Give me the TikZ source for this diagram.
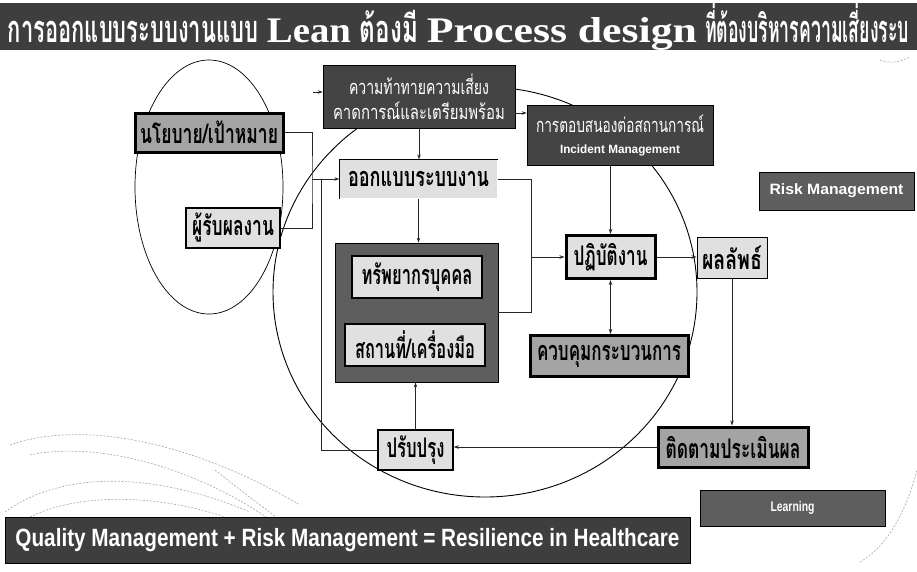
\documentclass[tikz,border=0pt]{standalone}
\usepackage{fontspec}
\usepackage{graphicx}
\newfontfamily\thai[Script=Thai]{Loma}
\newfontfamily\lserif{Liberation Serif}
\newfontfamily\lsans{Liberation Sans}
\usetikzlibrary{arrows.meta}
% scale a label horizontally to a given width, keeping its height
\newcommand{\hfit}[2]{\resizebox{#1}{\height}{#2}}
\definecolor{barDark}{HTML}{3E3E3E}
\definecolor{boxDark}{HTML}{444444}
\definecolor{boxGrey}{HTML}{5E5E5E}
\definecolor{boxMid}{HTML}{A4A4A4}
\definecolor{boxLight}{HTML}{E0E0E0}
\definecolor{swoosh}{HTML}{A8A8A8}
\begin{document}
\begin{tikzpicture}[x=1pt,y=-1pt,
  box/.style={draw=black, inner sep=0pt, align=center, text=black},
  lightbox/.style={box, fill=boxLight, line width=1.3pt},
  midbox/.style={box, fill=boxMid, line width=3pt},
  darkbox/.style={inner sep=0pt, fill=boxDark, text=white, align=center, draw=black, line width=0.6pt},
  lbl/.style={font=\thai\bfseries\fontsize{27}{29}\selectfont},
  conn/.style={line width=0.7pt, draw=black!85},
  arr/.style={conn, -{Stealth[length=5pt,width=3.5pt]}},
  deco/.style={draw=swoosh, line width=0.6pt, dash pattern=on 2pt off 1.5pt},
]
\useasboundingbox (0,0) rectangle (917,571);
\fill[white] (0,0) rectangle (917,571);

% faint background swooshes
\draw[deco] (10,445) .. controls (80,420) and (190,440) .. (300,505);
\draw[deco] (30,455) .. controls (100,440) and (200,470) .. (270,520);
\draw[deco] (5,512) .. controls (60,472) and (150,470) .. (250,512);
\draw[deco] (30,517) .. controls (80,492) and (160,495) .. (225,517);
\draw[deco] (215,470) .. controls (240,490) and (260,505) .. (280,520);
\draw[deco] (860,562) .. controls (890,545) and (908,505) .. (917,470);
\draw[deco] (880,60) .. controls (890,64) and (900,62) .. (910,57);

% grouping ellipses
\draw[line width=0.7pt] (209,187) ellipse [x radius=74, y radius=127];
\draw[line width=0.9pt] (485,292) ellipse [x radius=212, y radius=205];

% title bar
\node[fill=barDark, minimum width=917, minimum height=47, inner sep=0pt, text=white]
  (title) at (458.5,26.5) {%
  \hfit{250pt}{\thai\bfseries\fontsize{38}{40}\selectfont การออกแบบระบบงานแบบ}\hspace{9pt}%
  \hfit{84pt}{\lserif\bfseries\fontsize{36}{40}\selectfont Lean}\hspace{9pt}%
  \hfit{58pt}{\thai\bfseries\fontsize{38}{40}\selectfont ต้องมี}\hspace{9pt}%
  \hfit{270pt}{\lserif\bfseries\fontsize{36}{40}\selectfont Process design}\hspace{8pt}%
  \hfit{204pt}{\thai\bfseries\fontsize{38}{40}\selectfont ที่ต้องบริหารความเสี่ยงระบ}};

% risk boxes
\node[darkbox, minimum width=192, minimum height=63] (challenge) at (419,96.5)
  {\hfit{140pt}{\thai\fontsize{20}{22}\selectfont ความท้าทายความเสี่ยง}\\[6pt]
   \hfit{172pt}{\thai\fontsize{20}{22}\selectfont คาดการณ์และเตรียมพร้อม}};
\node[darkbox, minimum width=186, minimum height=60] (incident) at (620,135)
  {\hfit{168pt}{\thai\fontsize{20}{22}\selectfont การตอบสนองต่อสถานการณ์}\\[9pt]
   \hfit{120pt}{\lsans\bfseries\fontsize{12}{14}\selectfont Incident Management}};
\node[darkbox, fill=boxGrey, minimum width=155, minimum height=38] (risk) at (836.5,191)
  {\hfit{134pt}{\lsans\bfseries\fontsize{15}{18}\selectfont Risk Management}};

% process boxes
\node[midbox, lbl, minimum width=148, minimum height=39] (policy) at (209,132.5)
  {\hfit{138pt}{นโยบาย/เป้าหมาย}};
\node[lightbox, lbl, minimum width=94, minimum height=40] (receiver) at (233,228)
  {\hfit{82pt}{ผู้รับผลงาน}};
\node[lightbox, lbl, draw=none, minimum width=157, minimum height=38] (design) at (418.5,179)
  {\hfit{141pt}{ออกแบบระบบงาน}};
\draw[line width=1pt] (design.south west) -- (design.north west) -- (design.north east);
\node[draw=black, line width=0.8pt, fill=boxGrey, minimum width=163, minimum height=139, inner sep=0pt]
  (resgroup) at (416.5,312.5) {};
\node[lightbox, lbl, line width=2pt, minimum width=130, minimum height=42] (hr) at (417,277)
  {\hfit{111pt}{ทรัพยากรบุคคล}};
\node[lightbox, lbl, line width=2pt, minimum width=140, minimum height=42] (place) at (415,345)
  {\hfit{120pt}{สถานที่/เครื่องมือ}};
\node[lightbox, lbl, line width=3pt, minimum width=89, minimum height=43] (operate) at (610.5,257)
  {\hfit{74pt}{ปฏิบัติงาน}};
\node[lightbox, lbl, line width=1pt, minimum width=70, minimum height=41] (result) at (732,257.5)
  {\hfit{60pt}{ผลลัพธ์}};
\node[midbox, lbl, minimum width=158, minimum height=41] (control) at (609,356)
  {\hfit{144pt}{ควบคุมกระบวนการ}};
\node[lightbox, lbl, line width=1.5pt, minimum width=75, minimum height=40] (improve) at (415.5,450)
  {\hfit{58pt}{ปรับปรุง}};
\node[midbox, lbl, minimum width=150, minimum height=40] (monitor) at (733,447)
  {\hfit{135pt}{ติดตามประเมินผล}};

% bottom boxes
\node[darkbox, fill=boxGrey, minimum width=185, minimum height=36] (learning) at (792.5,508)
  {\hfit{44pt}{\lsans\bfseries\fontsize{14}{16}\selectfont Learning}};
\node[darkbox, fill=barDark, minimum width=685, minimum height=46] (quality) at (347.5,540)
  {\hfit{664pt}{\lsans\bfseries\fontsize{25}{28}\selectfont Quality Management + Risk Management = Resilience in Healthcare}};

% junction points
\coordinate (jin) at (312,179);
\coordinate (jfb) at (321,179);
\coordinate (jop) at (531,257);
\coordinate (stub) at (313,92);

% connectors
\draw[conn] (policy.east) -| (jin) |- (receiver.east);
\draw[arr] (jin) -- (design.west);
\draw[conn] (improve.west) -| (jfb);
\draw[arr] (stub) -- (stub -| challenge.west);
\draw[arr] (challenge.east |- 0,113) -- (incident.west |- 0,113);
\draw[arr] (challenge.south) -- (challenge.south |- design.north);
\draw[arr] (design.south) -- (design.south |- resgroup.north);
\draw[conn] (design.east) -| (jop);
\draw[conn] (resgroup.east) -| (jop);
\draw[arr] (jop) -- (operate.west);
\draw[arr, line width=1.2pt] (operate.north |- incident.south) -- (operate.north);
\draw[arr] (operate.east) -- (operate.east -| result.west);
\draw[conn, line width=1.2pt, {Stealth[length=5pt,width=3.5pt]}-{Stealth[length=5pt,width=3.5pt]}]
  (operate.south) -- (operate.south |- control.north);
\draw[arr] (result.south) -- (result.south |- monitor.north);
\draw[arr] (monitor.west) -- (monitor.west -| improve.east);
\draw[arr] (improve.north) -- (improve.north |- resgroup.south);
\end{tikzpicture}
\end{document}
